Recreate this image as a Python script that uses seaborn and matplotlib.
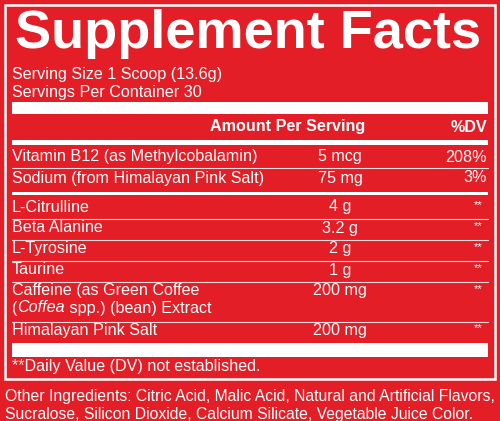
import matplotlib
matplotlib.use("Agg")
import matplotlib.pyplot as plt
import seaborn as sns

sns.set_theme(style="white")
plt.rcParams['font.family'] = ['Liberation Sans', 'DejaVu Sans']

RED = "#e31e26"
W = "white"
FS = 11.6

title = "Supplement Facts"
serving = ["Serving Size 1 Scoop (13.6g)", "Servings Per Container 30"]
names = ["Vitamin B12 (as Methylcobalamin)", "Sodium (from Himalayan Pink Salt)",
         "L-Citrulline", "Beta Alanine", "L-Tyrosine", "Taurine",
         "Caffeine (as Green Coffee", "Himalayan Pink Salt"]
amounts = ["5 mcg", "75 mg", "4 g", "3.2 g", "2 g", "1 g", "200 mg", "200 mg"]
dvs = ["208%", "3%", "**", "**", "**", "**", "**", "**"]
row_y = [157, 178, 207, 228, 249, 270, 291, 330]
footnote = "**Daily Value (DV) not established."
other = ["Other Ingredients: Citric Acid, Malic Acid, Natural and Artificial Flavors,",
         "Sucralose, Silicon Dioxide, Calcium Silicate, Vegetable Juice Color."]

fig = plt.figure(figsize=(5, 4.21), dpi=100, facecolor=RED)
ax = fig.add_axes([0, 0, 1, 1])
ax.set_facecolor(RED)
ax.set_xlim(0, 500); ax.set_ylim(421, 0); ax.axis("off")

ax.add_patch(plt.Rectangle((4.5, 4.5), 490, 374, fill=False, ec=W, lw=1.8))
ax.text(248, 48, title, color=W, fontsize=39, fontweight="bold", ha="center", va="baseline")
for i, s in enumerate(serving):
    ax.text(12, 75 + i * 17, s, color=W, fontsize=FS, va="center")

def bar(y0, y1):
    ax.add_patch(plt.Rectangle((12, y0), 476, y1 - y0, color=W, lw=0))

bar(102, 114)
ax.text(365, 127, "Amount Per Serving", color=W, fontsize=FS, fontweight="bold", ha="right", va="center")
ax.text(487, 127, "%DV", color=W, fontsize=FS, fontweight="bold", ha="right", va="center")
bar(140, 144.5)
bar(192, 195)
bar(343, 357)
for y in [168, 219, 240, 261, 282, 322]:
    ax.plot([12, 488], [y, y], color=W, lw=0.8, alpha=0.85)

for n, a, d, y in zip(names, amounts, dvs, row_y):
    ax.text(12, y, n, color=W, fontsize=FS, va="center")
    ax.text(340, y, a, color=W, fontsize=FS, va="center", ha="center")
    if d == "**":
        ax.text(478, y - 2, d, color=W, fontsize=8, va="center", ha="center")
    else:
        ax.text(487, y, d, color=W, fontsize=FS, va="center", ha="right")

# "(Coffea spp.) (bean) Extract" with italic part, chained by measured widths
r = fig.canvas.get_renderer()
inv = ax.transData.inverted()
x = 12
for part, st in [("(", "normal"), ("Coffea", "italic"), (" spp.) (bean) Extract", "normal")]:
    t = ax.text(x, 308, part, color=W, fontsize=FS, va="center", style=st)
    bb = t.get_window_extent(renderer=r)
    x = inv.transform((bb.x1, bb.y0))[0]

ax.text(12, 366, footnote, color=W, fontsize=FS, va="center")
for i, s in enumerate(other):
    ax.text(5, 396 + i * 18, s, color=W, fontsize=11.3, va="center")

fig.savefig("out.png", dpi=100, facecolor=RED)
